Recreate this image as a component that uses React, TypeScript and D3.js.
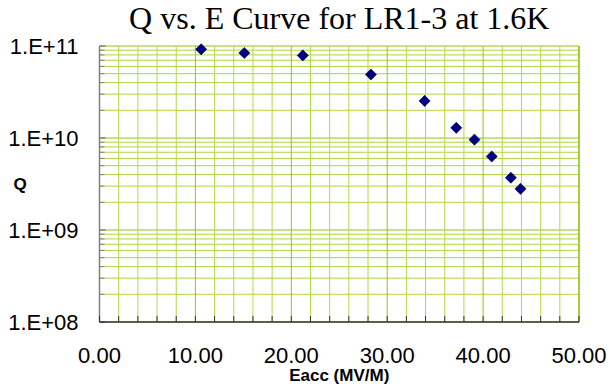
import React from 'react';
import * as d3 from 'd3';

// Eacc (MV/M) and Q readings at 1.6K
const eacc = [10.6, 15.1, 21.2, 28.3, 33.9, 37.2, 39.1, 40.9, 42.9, 43.9];
const qValues = [9.2e10, 8.4e10, 7.9e10, 4.9e10, 2.53e10, 1.29e10, 9.6e9, 6.3e9, 3.7e9, 2.8e9];

const xTicks = [0, 10, 20, 30, 40, 50];
const yDecades = [1e8, 1e9, 1e10, 1e11];
const yTickLabels = ['1.E+08', '1.E+09', '1.E+10', '1.E+11'];

const title = 'Q vs. E Curve for LR1-3 at 1.6K';
const xTitle = 'Eacc (MV/M)';
const yTitle = 'Q';

const W = 610;
const H = 390;
const margin = { top: 46, right: 31, bottom: 68, left: 99.5 };

const App = () => {
  const innerW = W - margin.left - margin.right;
  const innerH = H - margin.top - margin.bottom;

  const x = d3.scaleLinear().domain([0, 50]).range([0, innerW]);
  const y = d3.scaleLog().domain([1e8, 1e11]).range([innerH, 0]);

  // minor x gridlines every 2 units
  const xMinor = d3.range(0, 50.001, 2);
  // log minor lines 2..9 within each decade
  const yMinor: number[] = [];
  yDecades.slice(0, 3).forEach(d => {
    for (let k = 2; k <= 9; k++) yMinor.push(d * k);
  });

  const diamond = d3.symbol(d3.symbolSquare, 62)();
  const sans = '"Liberation Sans", Arial, sans-serif';

  return (
    <svg width={W} height={H} style={{ position: 'fixed', top: 0, left: 0, background: '#fff' }}>
      <text x={margin.left + innerW / 2} y={29} textAnchor="middle"
        fontFamily='"Liberation Serif", "Times New Roman", serif' fontSize={32} fill="#000">
        {title}
      </text>
      <g transform={`translate(${margin.left},${margin.top})`}>
        {/* horizontal grid */}
        {yMinor.map((v, i) => (
          <line key={'hy' + i} x1={0} x2={innerW} y1={y(v)} y2={y(v)} stroke="#aed63e" strokeWidth={1} />
        ))}
        {yDecades.map((v, i) => (
          <line key={'hd' + i} x1={0} x2={innerW} y1={y(v)} y2={y(v)} stroke="#99c40e" strokeWidth={1.2} />
        ))}
        {/* vertical grid */}
        {xMinor.map((v, i) => (
          <line key={'vx' + i} x1={x(v)} x2={x(v)} y1={0} y2={innerH}
            stroke={v % 10 === 0 ? '#99c40e' : '#b2d94a'} strokeWidth={1} />
        ))}
        {/* right border */}
        <line x1={innerW} x2={innerW} y1={0} y2={innerH} stroke="#8fbf10" strokeWidth={1.2} />
        {/* left axis */}
        <line x1={0} x2={0} y1={0} y2={innerH} stroke="#808080" strokeWidth={1.5} />
        {yMinor.map((v, i) => (
          <line key={'ty' + i} x1={0} x2={5} y1={y(v)} y2={y(v)} stroke="#808080" strokeWidth={1} />
        ))}
        {yDecades.map((v, i) => (
          <line key={'td' + i} x1={0} x2={6} y1={y(v)} y2={y(v)} stroke="#808080" strokeWidth={1.5} />
        ))}
        {yDecades.map((v, i) => (
          <text key={'ly' + i} x={-21} y={y(v)} dy="0.36em" textAnchor="end"
            fontFamily={sans} fontSize={22} fill="#000">{yTickLabels[i]}</text>
        ))}
        {/* bottom axis */}
        <line x1={0} x2={innerW} y1={innerH} y2={innerH} stroke="#333" strokeWidth={1.5} />
        {xMinor.map((v, i) => (
          <line key={'tx' + i} x1={x(v)} x2={x(v)} y1={innerH} y2={innerH - 6} stroke="#333" strokeWidth={1} />
        ))}
        {xTicks.map((v, i) => (
          <text key={'lx' + i} x={x(v)} y={innerH + 41} textAnchor="middle"
            fontFamily={sans} fontSize={22} fill="#000">{v.toFixed(2)}</text>
        ))}
        {/* data */}
        {eacc.map((e, i) => (
          <path key={'p' + i} d={diamond ?? ''}
            transform={`translate(${x(e)},${y(qValues[i])}) rotate(45)`}
            fill="#000080" stroke="#00005a" strokeWidth={0.6} />
        ))}
      </g>
      <text x={margin.left + innerW / 2} y={381} textAnchor="middle"
        fontFamily={sans} fontSize={17} fontWeight="bold" fill="#000">{xTitle}</text>
      <text x={20} y={190} textAnchor="middle"
        fontFamily={sans} fontSize={17} fontWeight="bold" fill="#000">{yTitle}</text>
    </svg>
  );
};

export default App;
